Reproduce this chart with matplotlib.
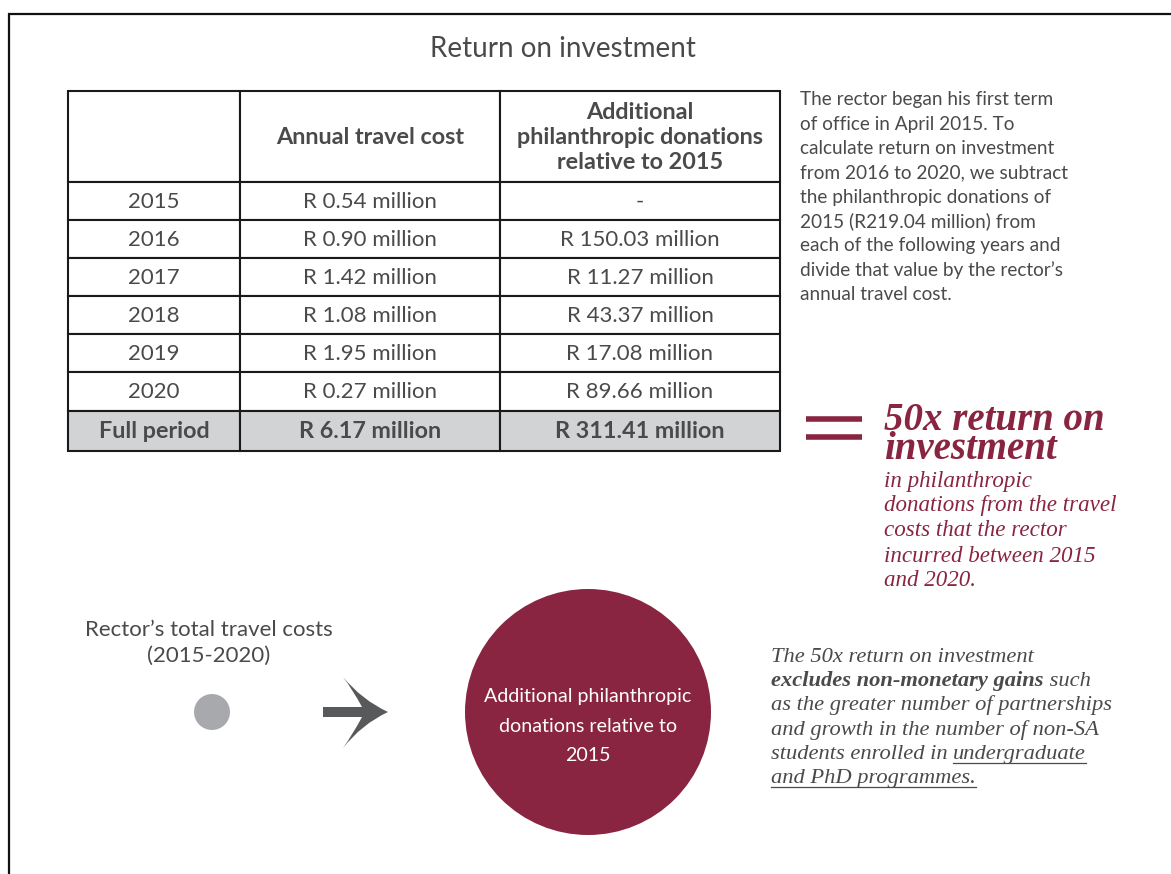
import matplotlib
matplotlib.use("Agg")
from matplotlib import pyplot as plt
from matplotlib.patches import Rectangle, Circle, PathPatch
from matplotlib.path import Path

# ---- data ----
years = ["2015", "2016", "2017", "2018", "2019", "2020"]
travel_cost = ["R 0.54 million", "R 0.90 million", "R 1.42 million",
               "R 1.08 million", "R 1.95 million", "R 0.27 million"]
donations = ["-", "R 150.03 million", "R 11.27 million",
             "R 43.37 million", "R 17.08 million", "R 89.66 million"]
total_label = "Full period"
total_cost = "R 6.17 million"
total_donations = "R 311.41 million"
col_headers = ["", "Annual travel cost",
               "Additional\nphilanthropic donations\nrelative to 2015"]

title = "Return on investment"
note_lines = ["The rector began his first term",
              "of office in April 2015. To",
              "calculate return on investment",
              "from 2016 to 2020, we subtract",
              "the philanthropic donations of",
              "2015 (R219.04 million) from",
              "each of the following years and",
              "divide that value by the rector\u2019s",
              "annual travel cost."]
roi_head = "50x return on\ninvestment"
roi_lines = ["in philanthropic", "donations from the travel",
             "costs that the rector", "incurred between 2015", "and 2020."]
left_label = "Rector\u2019s total travel costs\n(2015-2020)"
circle_label = "Additional philanthropic\ndonations relative to\n2015"
# runs: (text, bold, underline)
footnote = [
    [("The 50x return on investment", False, False)],
    [("excludes non-monetary gains", True, False), (" such", False, False)],
    [("as the greater number of partnerships", False, False)],
    [("and growth in the number of non-SA", False, False)],
    [("students enrolled in ", False, False), ("undergraduate", False, True)],
    [("and PhD programmes.", False, True)],
]

MAROON = "#8a2541"
TXT = "#4a4a4c"
SANS = ["Lato", "DejaVu Sans"]
SERIF = ["Liberation Serif", "DejaVu Serif"]

W, H = 1171, 874
fig = plt.figure(figsize=(W / 100, H / 100), dpi=100)
ax = fig.add_axes([0, 0, 1, 1])
ax.set_xlim(0, W)
ax.set_ylim(H, 0)
ax.axis("off")

# frame
ax.plot([8.5, 8.5, W], [H, 13.5, 13.5], color="#111111", lw=1.6,
        solid_joinstyle="miter")

ax.text(563, 49, title, ha="center", va="center", fontsize=20,
        color=TXT, family=SANS)

# ---- table ----
col_x = [68, 240, 500, 780]
row_y = [91, 182, 220, 258, 296, 334, 372, 411, 451]
rows = [col_headers] + [[y, c, d] for y, c, d in zip(years, travel_cost, donations)] \
    + [[total_label, total_cost, total_donations]]
for i, row in enumerate(rows):
    y0, y1 = row_y[i], row_y[i + 1]
    last = i == len(rows) - 1
    bold = i == 0 or last
    for j, txt in enumerate(row):
        x0, x1 = col_x[j], col_x[j + 1]
        ax.add_patch(Rectangle((x0, y0), x1 - x0, y1 - y0,
                               facecolor="#d1d3d4" if last else "white",
                               edgecolor="#1a1a1a", lw=1.5))
        ax.text((x0 + x1) / 2, (y0 + y1) / 2 + 1, txt, ha="center",
                va="center", fontsize=16.8 if bold else 16, color=TXT,
                family=SANS, fontweight="bold" if bold else "normal",
                linespacing=1.22)

# note on the right
for k, line in enumerate(note_lines):
    ax.text(800, 100 + k * 24.3, line, ha="left", va="center",
            fontsize=13.7, color=TXT, family=SANS)

# equals sign
for yy in (419, 437):
    ax.plot([806, 862], [yy, yy], color=MAROON, lw=4, solid_capstyle="butt")

ax.text(884, 435, roi_head, ha="left", va="center", fontsize=28,
        color=MAROON, family=SERIF, style="italic", fontweight="bold",
        linespacing=0.74)
ax.text(884, 531, "\n".join(roi_lines), ha="left", va="center",
        fontsize=16.6, color=MAROON, family=SERIF, style="italic",
        linespacing=1.25)

# bottom: travel cost dot, arrow, donation circle
ax.text(209, 643, left_label, ha="center", va="center", fontsize=16,
        color=TXT, family=SANS, linespacing=1.35)
ax.add_patch(Circle((212, 712), 18, color="#a7a9ac", lw=0))

arrow_path = Path([(323, 707), (362, 707), (353, 690), (343, 677),
                   (362, 700), (388, 712), (362, 724), (343, 748),
                   (353, 734), (362, 717), (323, 717), (323, 707)],
                  [Path.MOVETO, Path.LINETO, Path.CURVE3, Path.CURVE3,
                   Path.CURVE3, Path.CURVE3, Path.CURVE3, Path.CURVE3,
                   Path.CURVE3, Path.CURVE3, Path.LINETO, Path.CLOSEPOLY])
ax.add_patch(PathPatch(arrow_path, facecolor="#58595b", edgecolor="none"))

ax.add_patch(Circle((588, 712), 123, color=MAROON, lw=0))
ax.text(588, 726, circle_label, ha="center", va="center", fontsize=14.1,
        color="white", family=SANS, linespacing=1.87)

# footnote with bold / underlined runs
renderer = fig.canvas.get_renderer()
for k, runs in enumerate(footnote):
    x = 771
    y = 662 + k * 24.2
    for txt, bold, under in runs:
        t = ax.text(x, y, txt, ha="left", va="baseline", fontsize=16.2,
                    color=TXT, family=SERIF, style="italic",
                    fontweight="bold" if bold else "normal")
        bb = t.get_window_extent(renderer).transformed(ax.transData.inverted())
        x0, x1 = min(bb.x0, bb.x1), max(bb.x0, bb.x1)
        if under:
            ax.plot([x0, x1], [y + 4, y + 4], color=TXT, lw=0.9)
        x = x1

fig.savefig("out.png", dpi=100)
